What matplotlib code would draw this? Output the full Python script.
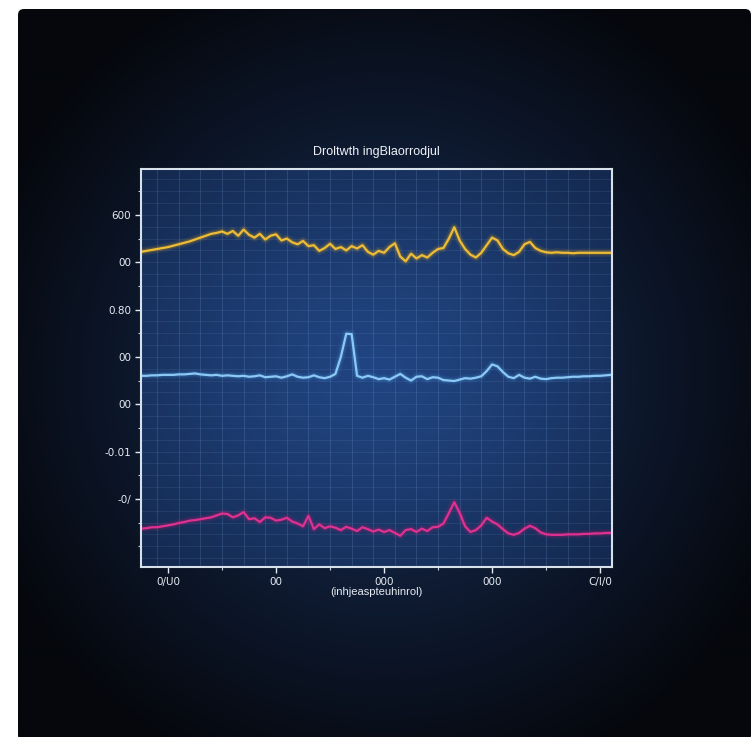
import numpy as np
import matplotlib
matplotlib.use("Agg")
import matplotlib.pyplot as plt
from matplotlib.patches import FancyBboxPatch

# ---------------- data ----------------
x_vals = list(range(-5, 83))  # sample positions (88 points)

yellow = [52.2, 52.4, 52.6, 52.8, 53.0, 53.2, 53.5, 53.8, 54.1, 54.4,
          54.8, 55.2, 55.6, 56.0, 56.2, 56.5, 56.0, 56.6, 55.6, 56.9,
          55.8, 55.2, 56.0, 54.8, 55.6, 55.9, 54.6, 55.0, 54.2, 53.8,
          54.5, 53.4, 53.6, 52.4, 53.0, 53.9, 52.8, 53.2, 52.5, 53.4,
          52.9, 53.6, 52.2, 51.6, 52.4, 52.0, 53.2, 54.0, 51.2, 50.2,
          51.8, 50.8, 51.5, 51.0, 52.0, 52.8, 53.0, 55.0, 57.4, 54.6,
          52.8, 51.6, 51.0, 52.0, 53.6, 55.2, 54.6, 52.8, 51.9, 51.5,
          52.2, 53.8, 54.3, 53.0, 52.4, 52.1, 52.0, 52.1, 52.0, 52.0,
          51.9, 52.0, 52.0, 52.0, 52.0, 52.0, 52.0, 52.0]

blue = [26.0, 26.0, 26.1, 26.1, 26.2, 26.2, 26.2, 26.3, 26.3, 26.4,
        26.5, 26.3, 26.2, 26.1, 26.2, 26.0, 26.1, 26.0, 25.9, 26.0,
        25.8, 25.9, 26.1, 25.7, 25.8, 25.9, 25.6, 25.9, 26.3, 25.8,
        25.6, 25.7, 26.1, 25.7, 25.5, 25.8, 26.4, 30.0, 34.9, 34.8,
        26.0, 25.6, 26.0, 25.7, 25.3, 25.5, 25.2, 25.8, 26.4, 25.6,
        25.0, 25.8, 25.9, 25.3, 25.7, 25.6, 25.1, 25.0, 24.9, 25.2,
        25.5, 25.4, 25.6, 25.9, 27.0, 28.4, 28.0, 26.8, 25.8, 25.5,
        26.2, 25.6, 25.4, 25.8, 25.4, 25.3, 25.5, 25.6, 25.6, 25.7,
        25.8, 25.8, 25.9, 25.9, 26.0, 26.0, 26.1, 26.2]

pink = [-6.3, -6.2, -6.0, -6.0, -5.8, -5.6, -5.4, -5.1, -4.9, -4.6,
        -4.5, -4.3, -4.1, -3.9, -3.5, -3.1, -3.2, -3.9, -3.5, -2.8,
        -4.3, -4.1, -4.9, -3.9, -4.0, -4.6, -4.4, -4.0, -4.8, -5.2,
        -5.8, -3.6, -6.4, -5.4, -6.2, -5.8, -6.1, -6.6, -5.9, -6.3,
        -6.8, -6.0, -6.4, -6.9, -6.5, -7.0, -6.6, -7.2, -7.8, -6.6,
        -6.4, -7.0, -6.3, -6.8, -6.0, -5.9, -5.2, -3.0, -0.7, -3.0,
        -5.8, -7.0, -6.6, -5.6, -4.0, -4.8, -5.4, -6.4, -7.3, -7.6,
        -7.2, -6.3, -5.7, -6.2, -7.1, -7.5, -7.6, -7.6, -7.6, -7.5,
        -7.5, -7.5, -7.4, -7.4, -7.3, -7.3, -7.2, -7.2]

x_tick_pos = [0, 20, 40, 60, 80]
x_tick_labels = ["0/U0", "00", "000", "000", "C/I/0"]
y_tick_pos = [0, 10, 20, 30, 40, 50, 60]
y_tick_labels = ["-0/", "-0.01", "00", "00", "0.80", "00", "600"]
title = "Droltwth ingBlaorrodjul"
xlabel = "(inhjeaspteuhinrol)"

# ---------------- figure ----------------
W, H = 752, 737
fig = plt.figure(figsize=(W / 100, H / 100), dpi=100, facecolor="white")

# background panel with radial gradient
bg = fig.add_axes([0, 0, 1, 1])
bg.set_xlim(0, W)
bg.set_ylim(H, 0)
bg.axis("off")
gy, gx = np.mgrid[0:H:2, 0:W:2]
r = np.sqrt(((gx - 385) / 430.0) ** 2 + ((gy - 375) / 430.0) ** 2)
t = np.clip(r, 0, 1) ** 1.0
c_in = np.array([0x19, 0x30, 0x5a]) / 255.0
c_out = np.array([0x05, 0x07, 0x0c]) / 255.0
img = c_in[None, None, :] * (1 - t[..., None]) + c_out[None, None, :] * t[..., None]
im = bg.imshow(img, extent=(0, W, H, 0), interpolation="bilinear", zorder=0)
panel = FancyBboxPatch((18, 9), W - 19, H - 5, boxstyle="round,pad=0,rounding_size=6",
                       transform=bg.transData, facecolor="none", edgecolor="none")
bg.add_patch(panel)
im.set_clip_path(panel)

# main axes
ax_l, ax_r, ax_t, ax_b = 141, 612, 169, 567
ax = fig.add_axes([ax_l / W, 1 - ax_b / H, (ax_r - ax_l) / W, (ax_b - ax_t) / H])
xmin, xmax = -5, 82.2
ymin, ymax = -14.4, 69.7
ax.set_xlim(xmin, xmax)
ax.set_ylim(ymin, ymax)
ax.set_facecolor("#16305c")

# axes background gradient
ay, axg = np.mgrid[0:1:200j, 0:1:200j]
ra = np.sqrt(((axg - 0.5) / 0.75) ** 2 + ((ay - 0.5) / 0.7) ** 2)
ta = np.clip(ra, 0, 1) ** 1.3
a_in = np.array([0x21, 0x45, 0x82]) / 255.0
a_out = np.array([0x13, 0x27, 0x4b]) / 255.0
aimg = a_in[None, None, :] * (1 - ta[..., None]) + a_out[None, None, :] * ta[..., None]
ax.imshow(aimg, extent=(xmin, xmax, ymin, ymax), aspect="auto",
          interpolation="bilinear", zorder=0)

# grid
ax.vlines(np.arange(-2, 83, 4), ymin, ymax, colors="#7fa6e0", linewidth=0.7, alpha=0.2, zorder=1)
ax.hlines(np.arange(-12.5, 70, 2.5), xmin, xmax, colors="#7fa6e0", linewidth=0.6, alpha=0.14, zorder=1)

# lines with glow
def glow_line(y, core, glow):
    ax.plot(x_vals, y, color=glow, linewidth=6, alpha=0.10, solid_joinstyle="round",
            solid_capstyle="round", zorder=2)
    ax.plot(x_vals, y, color=glow, linewidth=3.5, alpha=0.22, solid_joinstyle="round",
            solid_capstyle="round", zorder=3)
    ax.plot(x_vals, y, color=core, linewidth=1.6, alpha=1.0, solid_joinstyle="round",
            solid_capstyle="round", zorder=4)

glow_line(yellow, "#eebd35", "#d9a21c")
glow_line(blue, "#8ccaf5", "#4a95e0")
glow_line(pink, "#df3190", "#c01a72")

# spines / ticks
for s in ax.spines.values():
    s.set_color("#d8e0ea")
    s.set_linewidth(1.5)
    s.set_zorder(6)

ax.set_xticks(x_tick_pos)
ax.set_xticklabels(x_tick_labels)
ax.set_xticks([10, 30, 50, 70], minor=True)
ax.set_yticks(y_tick_pos)
ax.set_yticklabels(y_tick_labels)
ax.set_yticks([-10, -5, 5, 15, 25, 35, 45, 55, 65], minor=True)
ax.tick_params(axis="both", which="major", colors="#e6ebf2", labelsize=7.5,
               length=4, width=1, pad=3)
ax.tick_params(axis="both", which="minor", colors="#c8d0dc", length=2.5, width=0.8)
ax.tick_params(axis="x", which="major", pad=3)

ax.set_title(title, color="#eef2f8", fontsize=9, pad=10, fontfamily="Liberation Sans")
ax.set_xlabel(xlabel, color="#e6ebf2", fontsize=8, labelpad=0, fontfamily="Liberation Sans")

fig.savefig("out.png", dpi=100, facecolor="white")
